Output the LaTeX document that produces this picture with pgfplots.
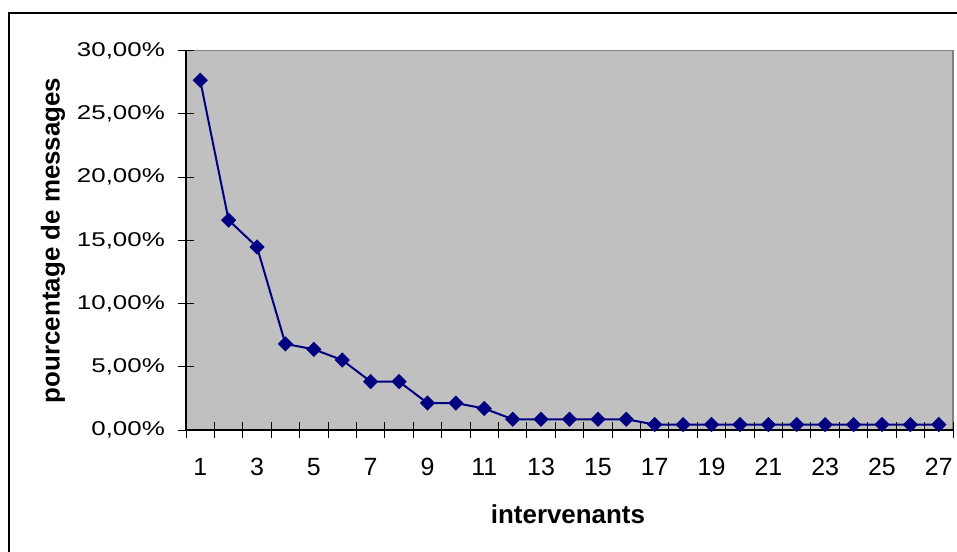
\documentclass[border=0pt]{standalone}
\usepackage{fontspec}
\setmainfont{Liberation Sans}
\newfontfamily\ytickfont[FakeStretch=1.3]{Liberation Sans}
\usepackage{pgfplots}
\usepackage{pgfplotstable}
\pgfplotsset{compat=1.18}

\definecolor{plotgray}{HTML}{C0C0C0}
\definecolor{framegray}{HTML}{808080}
\definecolor{navyline}{HTML}{000080}

% pourcentage de messages par intervenant (sur 235 messages)
\pgfplotstableread{
x y
1 27.66
2 16.60
3 14.47
4 6.81
5 6.38
6 5.53
7 3.83
8 3.83
9 2.13
10 2.13
11 1.70
12 0.85
13 0.85
14 0.85
15 0.85
16 0.85
17 0.43
18 0.43
19 0.43
20 0.43
21 0.43
22 0.43
23 0.43
24 0.43
25 0.43
26 0.43
27 0.43
}\msgdata

\begin{document}
\begin{tikzpicture}
\path[use as bounding box] (0,0) rectangle (957bp,552bp);
\draw[line width=2bp] (9bp,-20bp) -- (9bp,539bp) -- (980bp,539bp);
\begin{axis}[
  at={(186bp,122bp)}, anchor=south west,
  width=767bp, height=379.3bp, scale only axis,
  xmin=0.5, xmax=27.5, ymin=0, ymax=30,
  axis x line*=bottom, axis y line*=left,
  axis line style={black, line width=1.3bp},
  axis background/.style={fill=plotgray, draw=framegray, line width=1.5bp},
  xtick={1,3,...,27},
  xticklabels={1,3,5,7,9,11,13,15,17,19,21,23,25,27},
  major x tick style={draw=none},
  minor xtick={0.5,1.5,...,27.5},
  ytick={0,5,...,30},
  yticklabels={{0,00\%},{5,00\%},{10,00\%},{15,00\%},{20,00\%},{25,00\%},{30,00\%}},
  tick align=center,
  major tick length=16bp, minor tick length=16bp,
  tick style={black, line width=1bp},
  xticklabel style={font=\fontsize{25}{28}\selectfont, inner sep=0pt, anchor=north, yshift=-20bp},
  yticklabel style={font=\ytickfont\fontsize{20}{22}\selectfont, inner sep=0pt, anchor=east, xshift=-13bp},
  xlabel={intervenants},
  ylabel={pourcentage de messages},
  xlabel style={font=\bfseries\fontsize{26}{30}\selectfont, at={(axis description cs:0.498,-0.2215)}, anchor=center},
  ylabel style={font=\bfseries\fontsize{26}{30}\selectfont, at={(axis description cs:-0.1734,0.5)}, anchor=center},
]
\addplot[navyline, line width=2bp, mark=square*, mark size=4.4bp,
  mark options={rotate=45, solid, fill=navyline}] table {\msgdata};
\end{axis}
\end{tikzpicture}
\end{document}
